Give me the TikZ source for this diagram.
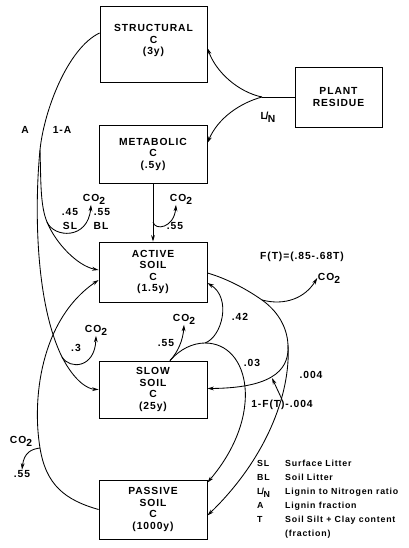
\documentclass[tikz,border=0pt]{standalone}
\usepackage{fontspec}
\setmainfont{Liberation Sans}[LetterSpace=9]
\usetikzlibrary{arrows.meta}

\newcommand{\cotwo}{CO\raisebox{-0.55ex}{2}}
\newcommand{\lovern}{L\kern-0.12em/\kern-0.05em\raisebox{-0.6ex}{N}}

\begin{document}
\begin{tikzpicture}[x=1pt, y=-1pt,
  box/.style={draw, line width=0.85pt, inner sep=0pt, align=center,
              font=\fontsize{10.3}{11.5}\selectfont\bfseries},
  ln/.style={line width=0.85pt},
  arr/.style={ln, -{Stealth[length=6.5pt,width=3.8pt]}},
  lbl/.style={inner sep=0.5pt, font=\fontsize{10.3}{11}\selectfont\bfseries},
  legtxt/.style={anchor=base west, inner sep=0pt,
                 font=\fontsize{8.8}{10}\selectfont\bfseries}]

\useasboundingbox (0,0) rectangle (408,548);

% ---- (1) carbon pools --------------------------------------------
\node[box, minimum width=107pt, minimum height=76pt] (struct)
      at (153.5,44) {STRUCTURAL\\C\\(3y)\\[-3pt]\mbox{}};
\node[box, minimum width=87pt, minimum height=60pt] (plant)
      at (338.5,97) {PLANT\\RESIDUE};
\node[box, minimum width=108pt, minimum height=58pt] (metab)
      at (153,154) {METABOLIC\\C\\(.5y)};
\node[box, minimum width=108pt, minimum height=60pt] (active)
      at (153,272) {ACTIVE\\SOIL\\C\\(1.5y)};
\node[box, minimum width=108pt, minimum height=57pt] (slow)
      at (153,389.5) {SLOW\\SOIL\\C\\(25y)};
\node[box, minimum width=108pt, minimum height=59pt] (passive)
      at (153,509.5) {PASSIVE\\SOIL\\C\\(1000y)};

% ---- (2) flux labels ---------------------------------------------
\node[lbl] (labA)  at (25,130)  {A};
\node[lbl] (lab1A) at (62,130)  {1-A};
\node[lbl] (co2SL) at (94,199)  {\cotwo};
\node[lbl] (l45)   at (70,212)  {.45};
\node[lbl] (l55b)  at (102,212) {.55};
\node[lbl] (lSL)   at (70,226)  {SL};
\node[lbl] (lBL)   at (101,226) {BL};
\node[lbl] (co2M)  at (181,199) {\cotwo};
\node[lbl] (l55m)  at (175,226) {.55};
\node[lbl] (lLN)   at (268,117) {\lovern};
\node[lbl] (lFT)   at (302,257) {F(T)=(.85-.68T)};
\node[lbl] (co2F)  at (329,278) {\cotwo};
\node[lbl] (l42)   at (240,317) {.42};
\node[lbl] (co2S)  at (184,319) {\cotwo};
\node[lbl] (l55s)  at (166,343) {.55};
\node[lbl] (co2A)  at (96,330)  {\cotwo};
\node[lbl] (l3)    at (76,348)  {.3};
\node[lbl] (l03)   at (252,363) {.03};
\node[lbl] (l004)  at (311,375) {.004};
\node[lbl] (lFF)   at (282,405) {1-F(T)-.004};
\node[lbl] (co2P)  at (21,441)  {\cotwo};
\node[lbl] (l55p)  at (22,474)  {.55};

% ---- (3) plant residue split by L/N ------------------------------
\coordinate (lnJ) at (262,97);
\draw[ln]  (plant.west) -- (lnJ);
\draw[arr] (lnJ) .. controls (238,92) and (216,72) .. ([yshift=-4pt]struct.east);
\draw[arr] (lnJ) .. controls (240,103) and (218,118) .. ([yshift=11pt]metab.east);

% ---- (4) structural: A to slow, 1-A to active --------------------
\coordinate (stS) at (40,150);
\coordinate (stT) at (62,357);
\coordinate (stU) at (47,222);
\draw[ln]  ([yshift=11pt]struct.west) .. controls (68,48) and (44,110) .. (stS);
\draw[ln]  (stS) .. controls (35,200) and (34,300) .. (stT);
\draw[arr] (stT) .. controls (75,382) and (88,389) .. (slow.west);
\draw[arr] (stT) .. controls (70,370) and (95,368) .. (co2A.south);
\draw[ln]  (stS) .. controls (41,180) and (40,205) .. (stU);
\draw[arr] (stU) .. controls (56,244) and (78,266) .. ([yshift=2pt]active.west);
\draw[arr] (stU) .. controls (54,238) and (88,240) .. ([xshift=-3pt]co2SL.south);

% ---- (5) metabolic to active -------------------------------------
\coordinate (mtB) at (153,222);
\draw[arr] (metab.south) -- (active.north);
\draw[arr] (mtB) .. controls (155,231) and (174,228) .. ([xshift=-5pt]co2M.south);

% ---- (6) active to CO2, slow and passive -------------------------
\coordinate (acR) at (262,300);
\coordinate (acS) at (288,345);
\draw[ln]  ([yshift=-1pt]active.east) .. controls (225,278) and (245,288) .. (acR);
\draw[ln]  (acR) .. controls (276,310) and (287,325) .. (acS);
\draw[arr] (acR) .. controls (285,306) and (305,298) .. (co2F.west);
\draw[arr] (acS) .. controls (289,365) and (280,388) .. ([yshift=1pt]slow.east);
\draw[arr] (acS) .. controls (291,395) and (265,460) .. ([yshift=-6pt]passive.east);
\coordinate (ftTip) at (272,378);
\draw[arr] (lFF.north) -- (ftTip);

% ---- (7) slow to CO2, active and passive -------------------------
\coordinate (slA) at ([xshift=17pt]slow.north);
\coordinate (slB) at (205,343);
\draw[ln]  (slA) .. controls (180,349) and (193,343) .. (slB);
\draw[arr] (slA) .. controls (178,352) and (183,340) .. (co2S.south);
\draw[arr] (slB) .. controls (222,337) and (232,298) .. ([yshift=-11pt]active.east);
\draw[arr] (slB) .. controls (250,343) and (265,415) .. ([yshift=-3pt]passive.north east);

% ---- (8) passive to active ---------------------------------------
\coordinate (psB) at (40,448);
\draw[ln]  (passive.west) .. controls (65,500) and (46,485) .. (psB);
\draw[arr] (psB) .. controls (32,400) and (40,320) .. ([yshift=-8pt]active.west);
\draw[arr] (psB) .. controls (32,449) and (24,452) .. (l55p.north);

% ---- (9) legend --------------------------------------------------
\foreach \ab/\txt [count=\i] in {SL/Surface Litter, BL/Soil Litter,
    {\lovern}/Lignin to Nitrogen ratio, A/Lignin fraction,
    T/Soil Silt + Clay content}{%
  \node[legtxt] (leg\i a) at (257,{452.5+14*\i}) {\ab};
  \node[legtxt] (leg\i b) at (285,{452.5+14*\i}) {\txt};
}
\node[legtxt] (leg6b) at (285,536.5) {(fraction)};

\end{tikzpicture}
\end{document}
